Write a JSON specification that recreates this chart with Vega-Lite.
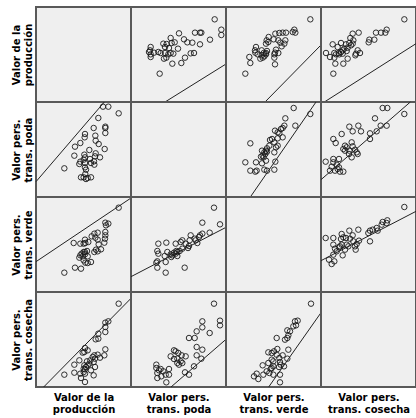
{
  "$schema": "https://vega.github.io/schema/vega-lite/v6.json",
  "background": "white",
  "padding": {"left": 10, "top": 6, "right": 0, "bottom": 0},
  "columns": 4,
  "spacing": 0,
  "bounds": "flush",
  "config": {
    "view": {"fill": "#efefef", "stroke": "#595959", "strokeWidth": 2},
    "axis": {"ticks": false, "labels": false, "domain": false, "grid": false, "titleFont": "DejaVu Sans", "titleFontSize": 10, "titleFontWeight": "bold", "titleColor": "#000000", "titleLineHeight": 12},
    "axisX": {"titlePadding": 5},
    "axisY": {"titlePadding": 3},
    "point": {"shape": "circle", "filled": false, "size": 30, "strokeWidth": 1, "color": "#1a1a1a", "opacity": 0.9},
    "line": {"color": "#222222", "strokeWidth": 1, "clip": true}
  },
  "datasets": {
    "pairs": [
      {"pair": "prod-poda", "v1": 248, "v2": 251}, {"pair": "prod-poda", "v1": 217, "v2": 271}, {"pair": "prod-poda", "v1": 201, "v2": 271}, {"pair": "prod-poda", "v1": 208, "v2": 192},
      {"pair": "prod-poda", "v1": 208, "v2": 207}, {"pair": "prod-poda", "v1": 208, "v2": 211}, {"pair": "prod-poda", "v1": 206, "v2": 144}, {"pair": "prod-poda", "v1": 187, "v2": 237},
      {"pair": "prod-poda", "v1": 192, "v2": 119}, {"pair": "prod-poda", "v1": 188, "v2": 159}, {"pair": "prod-poda", "v1": 179, "v2": 169}, {"pair": "prod-poda", "v1": 178, "v2": 184},
      {"pair": "prod-poda", "v1": 175, "v2": 97}, {"pair": "prod-poda", "v1": 174, "v2": 107}, {"pair": "prod-poda", "v1": 177, "v2": 122}, {"pair": "prod-poda", "v1": 179, "v2": 131},
      {"pair": "prod-poda", "v1": 173, "v2": 207}, {"pair": "prod-poda", "v1": 165, "v2": 59}, {"pair": "prod-poda", "v1": 155, "v2": 57}, {"pair": "prod-poda", "v1": 150, "v2": 54},
      {"pair": "prod-poda", "v1": 143, "v2": 59}, {"pair": "prod-poda", "v1": 135, "v2": 59}, {"pair": "prod-poda", "v1": 150, "v2": 82}, {"pair": "prod-poda", "v1": 147, "v2": 89},
      {"pair": "prod-poda", "v1": 165, "v2": 102}, {"pair": "prod-poda", "v1": 162, "v2": 114}, {"pair": "prod-poda", "v1": 147, "v2": 119}, {"pair": "prod-poda", "v1": 143, "v2": 112},
      {"pair": "prod-poda", "v1": 160, "v2": 141}, {"pair": "prod-poda", "v1": 133, "v2": 106}, {"pair": "prod-poda", "v1": 130, "v2": 99}, {"pair": "prod-poda", "v1": 115, "v2": 124},
      {"pair": "prod-poda", "v1": 117, "v2": 151}, {"pair": "prod-poda", "v1": 133, "v2": 162}, {"pair": "prod-poda", "v1": 146, "v2": 179}, {"pair": "prod-poda", "v1": 147, "v2": 189},
      {"pair": "prod-poda", "v1": 85, "v2": 86}, {"pair": "prod-poda", "v1": 148, "v2": 69}, {"pair": "prod-poda", "v1": 145, "v2": 127}, {"pair": "prod-poda", "v1": 147, "v2": 102},

      {"pair": "prod-verde", "v1": 248, "v2": 253}, {"pair": "prod-verde", "v1": 217, "v2": 205}, {"pair": "prod-verde", "v1": 208, "v2": 208}, {"pair": "prod-verde", "v1": 210, "v2": 200},
      {"pair": "prod-verde", "v1": 208, "v2": 180}, {"pair": "prod-verde", "v1": 208, "v2": 170}, {"pair": "prod-verde", "v1": 207, "v2": 160}, {"pair": "prod-verde", "v1": 205, "v2": 148},
      {"pair": "prod-verde", "v1": 195, "v2": 128}, {"pair": "prod-verde", "v1": 185, "v2": 122}, {"pair": "prod-verde", "v1": 175, "v2": 120}, {"pair": "prod-verde", "v1": 180, "v2": 127},
      {"pair": "prod-verde", "v1": 188, "v2": 143}, {"pair": "prod-verde", "v1": 185, "v2": 157}, {"pair": "prod-verde", "v1": 178, "v2": 163}, {"pair": "prod-verde", "v1": 185, "v2": 178},
      {"pair": "prod-verde", "v1": 175, "v2": 175}, {"pair": "prod-verde", "v1": 167, "v2": 167}, {"pair": "prod-verde", "v1": 165, "v2": 90}, {"pair": "prod-verde", "v1": 155, "v2": 87},
      {"pair": "prod-verde", "v1": 148, "v2": 88}, {"pair": "prod-verde", "v1": 155, "v2": 107}, {"pair": "prod-verde", "v1": 147, "v2": 113}, {"pair": "prod-verde", "v1": 140, "v2": 107},
      {"pair": "prod-verde", "v1": 137, "v2": 115}, {"pair": "prod-verde", "v1": 130, "v2": 103}, {"pair": "prod-verde", "v1": 147, "v2": 120}, {"pair": "prod-verde", "v1": 153, "v2": 123},
      {"pair": "prod-verde", "v1": 157, "v2": 150}, {"pair": "prod-verde", "v1": 148, "v2": 147}, {"pair": "prod-verde", "v1": 147, "v2": 157}, {"pair": "prod-verde", "v1": 133, "v2": 145},
      {"pair": "prod-verde", "v1": 135, "v2": 70}, {"pair": "prod-verde", "v1": 117, "v2": 73}, {"pair": "prod-verde", "v1": 113, "v2": 147}, {"pair": "prod-verde", "v1": 85, "v2": 58},
      {"pair": "prod-verde", "v1": 133, "v2": 110}, {"pair": "prod-verde", "v1": 143, "v2": 120}, {"pair": "prod-verde", "v1": 143, "v2": 95}, {"pair": "prod-verde", "v1": 143, "v2": 145},

      {"pair": "prod-cosecha", "v1": 248, "v2": 250}, {"pair": "prod-cosecha", "v1": 217, "v2": 197}, {"pair": "prod-cosecha", "v1": 208, "v2": 193}, {"pair": "prod-cosecha", "v1": 208, "v2": 180},
      {"pair": "prod-cosecha", "v1": 208, "v2": 165}, {"pair": "prod-cosecha", "v1": 187, "v2": 145}, {"pair": "prod-cosecha", "v1": 179, "v2": 143}, {"pair": "prod-cosecha", "v1": 187, "v2": 160},
      {"pair": "prod-cosecha", "v1": 208, "v2": 113}, {"pair": "prod-cosecha", "v1": 205, "v2": 95}, {"pair": "prod-cosecha", "v1": 192, "v2": 88}, {"pair": "prod-cosecha", "v1": 185, "v2": 97},
      {"pair": "prod-cosecha", "v1": 173, "v2": 35}, {"pair": "prod-cosecha", "v1": 165, "v2": 50}, {"pair": "prod-cosecha", "v1": 155, "v2": 65}, {"pair": "prod-cosecha", "v1": 150, "v2": 60},
      {"pair": "prod-cosecha", "v1": 147, "v2": 53}, {"pair": "prod-cosecha", "v1": 147, "v2": 40}, {"pair": "prod-cosecha", "v1": 147, "v2": 15}, {"pair": "prod-cosecha", "v1": 135, "v2": 27},
      {"pair": "prod-cosecha", "v1": 133, "v2": 40}, {"pair": "prod-cosecha", "v1": 177, "v2": 85}, {"pair": "prod-cosecha", "v1": 173, "v2": 75}, {"pair": "prod-cosecha", "v1": 163, "v2": 80},
      {"pair": "prod-cosecha", "v1": 145, "v2": 105}, {"pair": "prod-cosecha", "v1": 147, "v2": 117}, {"pair": "prod-cosecha", "v1": 140, "v2": 103}, {"pair": "prod-cosecha", "v1": 115, "v2": 43},
      {"pair": "prod-cosecha", "v1": 115, "v2": 67}, {"pair": "prod-cosecha", "v1": 130, "v2": 80}, {"pair": "prod-cosecha", "v1": 85, "v2": 37}, {"pair": "prod-cosecha", "v1": 145, "v2": 65},
      {"pair": "prod-cosecha", "v1": 143, "v2": 55}, {"pair": "prod-cosecha", "v1": 160, "v2": 70}, {"pair": "prod-cosecha", "v1": 170, "v2": 90}, {"pair": "prod-cosecha", "v1": 175, "v2": 95},
      {"pair": "prod-cosecha", "v1": 143, "v2": 45}, {"pair": "prod-cosecha", "v1": 177, "v2": 60}, {"pair": "prod-cosecha", "v1": 155, "v2": 110}, {"pair": "prod-cosecha", "v1": 153, "v2": 77},

      {"pair": "poda-verde", "v1": 267, "v2": 203}, {"pair": "poda-verde", "v1": 249, "v2": 253}, {"pair": "poda-verde", "v1": 236, "v2": 178}, {"pair": "poda-verde", "v1": 214, "v2": 208},
      {"pair": "poda-verde", "v1": 214, "v2": 175}, {"pair": "poda-verde", "v1": 207, "v2": 170}, {"pair": "poda-verde", "v1": 204, "v2": 165}, {"pair": "poda-verde", "v1": 194, "v2": 155},
      {"pair": "poda-verde", "v1": 191, "v2": 160}, {"pair": "poda-verde", "v1": 199, "v2": 147}, {"pair": "poda-verde", "v1": 179, "v2": 170}, {"pair": "poda-verde", "v1": 176, "v2": 155},
      {"pair": "poda-verde", "v1": 174, "v2": 138}, {"pair": "poda-verde", "v1": 171, "v2": 132}, {"pair": "poda-verde", "v1": 164, "v2": 145}, {"pair": "poda-verde", "v1": 154, "v2": 155},
      {"pair": "poda-verde", "v1": 149, "v2": 150}, {"pair": "poda-verde", "v1": 161, "v2": 73}, {"pair": "poda-verde", "v1": 154, "v2": 130}, {"pair": "poda-verde", "v1": 146, "v2": 123},
      {"pair": "poda-verde", "v1": 139, "v2": 120}, {"pair": "poda-verde", "v1": 134, "v2": 115}, {"pair": "poda-verde", "v1": 129, "v2": 118}, {"pair": "poda-verde", "v1": 124, "v2": 110},
      {"pair": "poda-verde", "v1": 121, "v2": 105}, {"pair": "poda-verde", "v1": 119, "v2": 113}, {"pair": "poda-verde", "v1": 136, "v2": 123}, {"pair": "poda-verde", "v1": 139, "v2": 108},
      {"pair": "poda-verde", "v1": 134, "v2": 145}, {"pair": "poda-verde", "v1": 104, "v2": 58}, {"pair": "poda-verde", "v1": 104, "v2": 90}, {"pair": "poda-verde", "v1": 101, "v2": 108},
      {"pair": "poda-verde", "v1": 109, "v2": 120}, {"pair": "poda-verde", "v1": 79, "v2": 73}, {"pair": "poda-verde", "v1": 76, "v2": 88}, {"pair": "poda-verde", "v1": 79, "v2": 92},
      {"pair": "poda-verde", "v1": 82, "v2": 115}, {"pair": "poda-verde", "v1": 79, "v2": 123}, {"pair": "poda-verde", "v1": 82, "v2": 145}, {"pair": "poda-verde", "v1": 106, "v2": 148},

      {"pair": "poda-cosecha", "v1": 267, "v2": 185}, {"pair": "poda-cosecha", "v1": 267, "v2": 199}, {"pair": "poda-cosecha", "v1": 249, "v2": 250}, {"pair": "poda-cosecha", "v1": 236, "v2": 162},
      {"pair": "poda-cosecha", "v1": 214, "v2": 179}, {"pair": "poda-cosecha", "v1": 214, "v2": 197}, {"pair": "poda-cosecha", "v1": 214, "v2": 112}, {"pair": "poda-cosecha", "v1": 211, "v2": 85},
      {"pair": "poda-cosecha", "v1": 197, "v2": 120}, {"pair": "poda-cosecha", "v1": 197, "v2": 95}, {"pair": "poda-cosecha", "v1": 189, "v2": 62}, {"pair": "poda-cosecha", "v1": 191, "v2": 147},
      {"pair": "poda-cosecha", "v1": 197, "v2": 167}, {"pair": "poda-cosecha", "v1": 174, "v2": 37}, {"pair": "poda-cosecha", "v1": 162, "v2": 44}, {"pair": "poda-cosecha", "v1": 174, "v2": 147},
      {"pair": "poda-cosecha", "v1": 164, "v2": 92}, {"pair": "poda-cosecha", "v1": 154, "v2": 72}, {"pair": "poda-cosecha", "v1": 149, "v2": 77}, {"pair": "poda-cosecha", "v1": 152, "v2": 95},
      {"pair": "poda-cosecha", "v1": 142, "v2": 102}, {"pair": "poda-cosecha", "v1": 134, "v2": 107}, {"pair": "poda-cosecha", "v1": 129, "v2": 110}, {"pair": "poda-cosecha", "v1": 119, "v2": 92},
      {"pair": "poda-cosecha", "v1": 129, "v2": 84}, {"pair": "poda-cosecha", "v1": 144, "v2": 67}, {"pair": "poda-cosecha", "v1": 139, "v2": 72}, {"pair": "poda-cosecha", "v1": 139, "v2": 85},
      {"pair": "poda-cosecha", "v1": 114, "v2": 37}, {"pair": "poda-cosecha", "v1": 114, "v2": 54}, {"pair": "poda-cosecha", "v1": 106, "v2": 14}, {"pair": "poda-cosecha", "v1": 104, "v2": 37},
      {"pair": "poda-cosecha", "v1": 97, "v2": 47}, {"pair": "poda-cosecha", "v1": 91, "v2": 32}, {"pair": "poda-cosecha", "v1": 89, "v2": 54}, {"pair": "poda-cosecha", "v1": 79, "v2": 27},
      {"pair": "poda-cosecha", "v1": 79, "v2": 42}, {"pair": "poda-cosecha", "v1": 76, "v2": 57}, {"pair": "poda-cosecha", "v1": 76, "v2": 67}, {"pair": "poda-cosecha", "v1": 84, "v2": 50},

      {"pair": "verde-cosecha", "v1": 255, "v2": 250}, {"pair": "verde-cosecha", "v1": 215, "v2": 199}, {"pair": "verde-cosecha", "v1": 210, "v2": 185}, {"pair": "verde-cosecha", "v1": 207, "v2": 197},
      {"pair": "verde-cosecha", "v1": 202, "v2": 182}, {"pair": "verde-cosecha", "v1": 192, "v2": 167}, {"pair": "verde-cosecha", "v1": 187, "v2": 155}, {"pair": "verde-cosecha", "v1": 184, "v2": 170},
      {"pair": "verde-cosecha", "v1": 184, "v2": 147}, {"pair": "verde-cosecha", "v1": 177, "v2": 142}, {"pair": "verde-cosecha", "v1": 152, "v2": 147}, {"pair": "verde-cosecha", "v1": 187, "v2": 112},
      {"pair": "verde-cosecha", "v1": 184, "v2": 85}, {"pair": "verde-cosecha", "v1": 170, "v2": 95}, {"pair": "verde-cosecha", "v1": 174, "v2": 62}, {"pair": "verde-cosecha", "v1": 164, "v2": 67},
      {"pair": "verde-cosecha", "v1": 159, "v2": 60}, {"pair": "verde-cosecha", "v1": 162, "v2": 75}, {"pair": "verde-cosecha", "v1": 162, "v2": 37}, {"pair": "verde-cosecha", "v1": 162, "v2": 14},
      {"pair": "verde-cosecha", "v1": 160, "v2": 87}, {"pair": "verde-cosecha", "v1": 152, "v2": 97}, {"pair": "verde-cosecha", "v1": 154, "v2": 114}, {"pair": "verde-cosecha", "v1": 144, "v2": 107},
      {"pair": "verde-cosecha", "v1": 137, "v2": 102}, {"pair": "verde-cosecha", "v1": 127, "v2": 104}, {"pair": "verde-cosecha", "v1": 137, "v2": 82}, {"pair": "verde-cosecha", "v1": 142, "v2": 77},
      {"pair": "verde-cosecha", "v1": 142, "v2": 62}, {"pair": "verde-cosecha", "v1": 137, "v2": 57}, {"pair": "verde-cosecha", "v1": 142, "v2": 37}, {"pair": "verde-cosecha", "v1": 130, "v2": 42},
      {"pair": "verde-cosecha", "v1": 127, "v2": 72}, {"pair": "verde-cosecha", "v1": 110, "v2": 65}, {"pair": "verde-cosecha", "v1": 122, "v2": 47}, {"pair": "verde-cosecha", "v1": 112, "v2": 37},
      {"pair": "verde-cosecha", "v1": 97, "v2": 24}, {"pair": "verde-cosecha", "v1": 92, "v2": 40}, {"pair": "verde-cosecha", "v1": 84, "v2": 32}, {"pair": "verde-cosecha", "v1": 134, "v2": 54}
    ],
    "lines": [
      {"panel": "r1c2", "x": 102, "y": 0}, {"panel": "r1c2", "x": 285, "y": 114},
      {"panel": "r1c3", "x": 117, "y": 0}, {"panel": "r1c3", "x": 285, "y": 171},
      {"panel": "r1c4", "x": 10, "y": 0}, {"panel": "r1c4", "x": 285, "y": 175},
      {"panel": "r2c1", "x": 0, "y": 46}, {"panel": "r2c1", "x": 205, "y": 285},
      {"panel": "r2c3", "x": 73, "y": 0}, {"panel": "r2c3", "x": 270, "y": 285},
      {"panel": "r2c4", "x": 0, "y": 52}, {"panel": "r2c4", "x": 268, "y": 285},
      {"panel": "r3c1", "x": 0, "y": 91}, {"panel": "r3c1", "x": 285, "y": 282},
      {"panel": "r3c2", "x": 0, "y": 46}, {"panel": "r3c2", "x": 285, "y": 194},
      {"panel": "r3c4", "x": 0, "y": 94}, {"panel": "r3c4", "x": 285, "y": 242},
      {"panel": "r4c1", "x": 23, "y": 0}, {"panel": "r4c1", "x": 285, "y": 266},
      {"panel": "r4c2", "x": 120, "y": 0}, {"panel": "r4c2", "x": 285, "y": 143},
      {"panel": "r4c3", "x": 128, "y": 0}, {"panel": "r4c3", "x": 285, "y": 223}
    ]
  },
  "concat": [
    {"width": 95, "height": 95, "data": {"values": []}, "mark": "point",
     "encoding": {"x": {"field": "v2", "type": "quantitative", "scale": {"domain": [0, 285], "nice": false, "zero": false}, "axis": null},
                  "y": {"field": "v1", "type": "quantitative", "scale": {"domain": [0, 285], "nice": false, "zero": false}, "axis": {"title": ["Valor de la", "producción"]}}}},
    {"width": 95, "height": 95, "layer": [
      {"data": {"name": "pairs"}, "transform": [{"filter": "datum.pair === 'prod-poda'"}], "mark": "point",
       "encoding": {"x": {"field": "v2", "type": "quantitative", "scale": {"domain": [0, 285], "nice": false, "zero": false}, "axis": null},
                    "y": {"field": "v1", "type": "quantitative", "scale": {"domain": [0, 285], "nice": false, "zero": false}, "axis": null}}},
      {"data": {"name": "lines"}, "transform": [{"filter": "datum.panel === 'r1c2'"}], "mark": "line",
       "encoding": {"x": {"field": "x", "type": "quantitative", "axis": null}, "y": {"field": "y", "type": "quantitative", "axis": null}}}]},
    {"width": 95, "height": 95, "layer": [
      {"data": {"name": "pairs"}, "transform": [{"filter": "datum.pair === 'prod-verde'"}], "mark": "point",
       "encoding": {"x": {"field": "v2", "type": "quantitative", "scale": {"domain": [0, 285], "nice": false, "zero": false}, "axis": null},
                    "y": {"field": "v1", "type": "quantitative", "scale": {"domain": [0, 285], "nice": false, "zero": false}, "axis": null}}},
      {"data": {"name": "lines"}, "transform": [{"filter": "datum.panel === 'r1c3'"}], "mark": "line",
       "encoding": {"x": {"field": "x", "type": "quantitative", "axis": null}, "y": {"field": "y", "type": "quantitative", "axis": null}}}]},
    {"width": 95, "height": 95, "layer": [
      {"data": {"name": "pairs"}, "transform": [{"filter": "datum.pair === 'prod-cosecha'"}], "mark": "point",
       "encoding": {"x": {"field": "v2", "type": "quantitative", "scale": {"domain": [0, 285], "nice": false, "zero": false}, "axis": null},
                    "y": {"field": "v1", "type": "quantitative", "scale": {"domain": [0, 285], "nice": false, "zero": false}, "axis": null}}},
      {"data": {"name": "lines"}, "transform": [{"filter": "datum.panel === 'r1c4'"}], "mark": "line",
       "encoding": {"x": {"field": "x", "type": "quantitative", "axis": null}, "y": {"field": "y", "type": "quantitative", "axis": null}}}]},

    {"width": 95, "height": 95, "layer": [
      {"data": {"name": "pairs"}, "transform": [{"filter": "datum.pair === 'prod-poda'"}], "mark": "point",
       "encoding": {"x": {"field": "v1", "type": "quantitative", "scale": {"domain": [0, 285], "nice": false, "zero": false}, "axis": null},
                    "y": {"field": "v2", "type": "quantitative", "scale": {"domain": [0, 285], "nice": false, "zero": false}, "axis": {"title": ["Valor pers.", "trans. poda"]}}}},
      {"data": {"name": "lines"}, "transform": [{"filter": "datum.panel === 'r2c1'"}], "mark": "line",
       "encoding": {"x": {"field": "x", "type": "quantitative", "axis": null}, "y": {"field": "y", "type": "quantitative", "axis": {"title": ["Valor pers.", "trans. poda"]}}}}]},
    {"width": 95, "height": 95, "data": {"values": []}, "mark": "point",
     "encoding": {"x": {"field": "v2", "type": "quantitative", "scale": {"domain": [0, 285], "nice": false, "zero": false}, "axis": null},
                  "y": {"field": "v1", "type": "quantitative", "scale": {"domain": [0, 285], "nice": false, "zero": false}, "axis": null}}},
    {"width": 95, "height": 95, "layer": [
      {"data": {"name": "pairs"}, "transform": [{"filter": "datum.pair === 'poda-verde'"}], "mark": "point",
       "encoding": {"x": {"field": "v2", "type": "quantitative", "scale": {"domain": [0, 285], "nice": false, "zero": false}, "axis": null},
                    "y": {"field": "v1", "type": "quantitative", "scale": {"domain": [0, 285], "nice": false, "zero": false}, "axis": null}}},
      {"data": {"name": "lines"}, "transform": [{"filter": "datum.panel === 'r2c3'"}], "mark": "line",
       "encoding": {"x": {"field": "x", "type": "quantitative", "axis": null}, "y": {"field": "y", "type": "quantitative", "axis": null}}}]},
    {"width": 95, "height": 95, "layer": [
      {"data": {"name": "pairs"}, "transform": [{"filter": "datum.pair === 'poda-cosecha'"}], "mark": "point",
       "encoding": {"x": {"field": "v2", "type": "quantitative", "scale": {"domain": [0, 285], "nice": false, "zero": false}, "axis": null},
                    "y": {"field": "v1", "type": "quantitative", "scale": {"domain": [0, 285], "nice": false, "zero": false}, "axis": null}}},
      {"data": {"name": "lines"}, "transform": [{"filter": "datum.panel === 'r2c4'"}], "mark": "line",
       "encoding": {"x": {"field": "x", "type": "quantitative", "axis": null}, "y": {"field": "y", "type": "quantitative", "axis": null}}}]},

    {"width": 95, "height": 95, "layer": [
      {"data": {"name": "pairs"}, "transform": [{"filter": "datum.pair === 'prod-verde'"}], "mark": "point",
       "encoding": {"x": {"field": "v1", "type": "quantitative", "scale": {"domain": [0, 285], "nice": false, "zero": false}, "axis": null},
                    "y": {"field": "v2", "type": "quantitative", "scale": {"domain": [0, 285], "nice": false, "zero": false}, "axis": {"title": ["Valor pers.", "trans. verde"]}}}},
      {"data": {"name": "lines"}, "transform": [{"filter": "datum.panel === 'r3c1'"}], "mark": "line",
       "encoding": {"x": {"field": "x", "type": "quantitative", "axis": null}, "y": {"field": "y", "type": "quantitative", "axis": {"title": ["Valor pers.", "trans. verde"]}}}}]},
    {"width": 95, "height": 95, "layer": [
      {"data": {"name": "pairs"}, "transform": [{"filter": "datum.pair === 'poda-verde'"}], "mark": "point",
       "encoding": {"x": {"field": "v1", "type": "quantitative", "scale": {"domain": [0, 285], "nice": false, "zero": false}, "axis": null},
                    "y": {"field": "v2", "type": "quantitative", "scale": {"domain": [0, 285], "nice": false, "zero": false}, "axis": null}}},
      {"data": {"name": "lines"}, "transform": [{"filter": "datum.panel === 'r3c2'"}], "mark": "line",
       "encoding": {"x": {"field": "x", "type": "quantitative", "axis": null}, "y": {"field": "y", "type": "quantitative", "axis": null}}}]},
    {"width": 95, "height": 95, "data": {"values": []}, "mark": "point",
     "encoding": {"x": {"field": "v2", "type": "quantitative", "scale": {"domain": [0, 285], "nice": false, "zero": false}, "axis": null},
                  "y": {"field": "v1", "type": "quantitative", "scale": {"domain": [0, 285], "nice": false, "zero": false}, "axis": null}}},
    {"width": 95, "height": 95, "layer": [
      {"data": {"name": "pairs"}, "transform": [{"filter": "datum.pair === 'verde-cosecha'"}], "mark": "point",
       "encoding": {"x": {"field": "v2", "type": "quantitative", "scale": {"domain": [0, 285], "nice": false, "zero": false}, "axis": null},
                    "y": {"field": "v1", "type": "quantitative", "scale": {"domain": [0, 285], "nice": false, "zero": false}, "axis": null}}},
      {"data": {"name": "lines"}, "transform": [{"filter": "datum.panel === 'r3c4'"}], "mark": "line",
       "encoding": {"x": {"field": "x", "type": "quantitative", "axis": null}, "y": {"field": "y", "type": "quantitative", "axis": null}}}]},

    {"width": 95, "height": 95, "layer": [
      {"data": {"name": "pairs"}, "transform": [{"filter": "datum.pair === 'prod-cosecha'"}], "mark": "point",
       "encoding": {"x": {"field": "v1", "type": "quantitative", "scale": {"domain": [0, 285], "nice": false, "zero": false}, "axis": {"title": ["Valor de la", "producción"]}},
                    "y": {"field": "v2", "type": "quantitative", "scale": {"domain": [0, 285], "nice": false, "zero": false}, "axis": {"title": ["Valor pers.", "trans. cosecha"]}}}},
      {"data": {"name": "lines"}, "transform": [{"filter": "datum.panel === 'r4c1'"}], "mark": "line",
       "encoding": {"x": {"field": "x", "type": "quantitative", "axis": {"title": ["Valor de la", "producción"]}}, "y": {"field": "y", "type": "quantitative", "axis": {"title": ["Valor pers.", "trans. cosecha"]}}}}]},
    {"width": 95, "height": 95, "layer": [
      {"data": {"name": "pairs"}, "transform": [{"filter": "datum.pair === 'poda-cosecha'"}], "mark": "point",
       "encoding": {"x": {"field": "v1", "type": "quantitative", "scale": {"domain": [0, 285], "nice": false, "zero": false}, "axis": {"title": ["Valor pers.", "trans. poda"]}},
                    "y": {"field": "v2", "type": "quantitative", "scale": {"domain": [0, 285], "nice": false, "zero": false}, "axis": null}}},
      {"data": {"name": "lines"}, "transform": [{"filter": "datum.panel === 'r4c2'"}], "mark": "line",
       "encoding": {"x": {"field": "x", "type": "quantitative", "axis": {"title": ["Valor pers.", "trans. poda"]}}, "y": {"field": "y", "type": "quantitative", "axis": null}}}]},
    {"width": 95, "height": 95, "layer": [
      {"data": {"name": "pairs"}, "transform": [{"filter": "datum.pair === 'verde-cosecha'"}], "mark": "point",
       "encoding": {"x": {"field": "v1", "type": "quantitative", "scale": {"domain": [0, 285], "nice": false, "zero": false}, "axis": {"title": ["Valor pers.", "trans. verde"]}},
                    "y": {"field": "v2", "type": "quantitative", "scale": {"domain": [0, 285], "nice": false, "zero": false}, "axis": null}}},
      {"data": {"name": "lines"}, "transform": [{"filter": "datum.panel === 'r4c3'"}], "mark": "line",
       "encoding": {"x": {"field": "x", "type": "quantitative", "axis": {"title": ["Valor pers.", "trans. verde"]}}, "y": {"field": "y", "type": "quantitative", "axis": null}}}]},
    {"width": 95, "height": 95, "data": {"values": []}, "mark": "point",
     "encoding": {"x": {"field": "v2", "type": "quantitative", "scale": {"domain": [0, 285], "nice": false, "zero": false}, "axis": {"title": ["Valor pers.", "trans. cosecha"]}},
                  "y": {"field": "v1", "type": "quantitative", "scale": {"domain": [0, 285], "nice": false, "zero": false}, "axis": null}}}
  ]
}
